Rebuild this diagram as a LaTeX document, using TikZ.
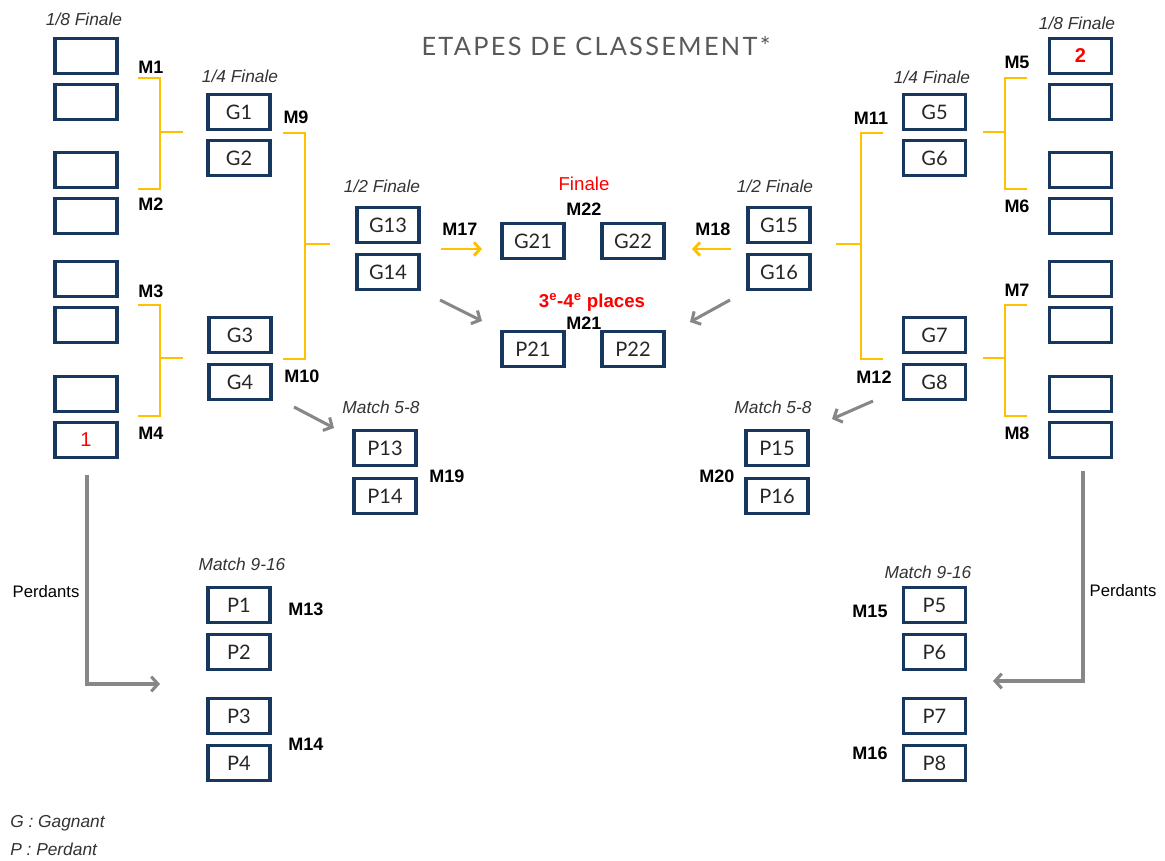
\documentclass[tikz,border=0pt]{standalone}
\usepackage{fontspec}
\setmainfont{Liberation Sans}
\newfontfamily\boxfont{Lato}
\newfontfamily\titlefont[LetterSpace=9]{Lato}
\usetikzlibrary{arrows.meta}
\definecolor{navy}{HTML}{17375E}
\definecolor{gold}{HTML}{FFC000}
\definecolor{arrgrey}{HTML}{878787}
\definecolor{titlegrey}{HTML}{595959}
\definecolor{redtxt}{HTML}{FF0000}
\tikzset{
  team/.style={draw=navy, line width=2.3pt, minimum width=46.5pt, minimum height=26.25pt, inner sep=0pt, font=\boxfont\fontsize{15}{17}\selectfont, text=black!85},
  mlab/.style={font=\bfseries\fontsize{13.5}{15}\selectfont, inner sep=0pt},
  stage/.style={font=\itshape\fontsize{13}{15}\selectfont, text=black!80, inner sep=0pt},
  bracket/.style={draw=gold, line width=2.2pt},
  yarrow/.style={draw=gold, line width=2.2pt, -{Straight Barb[length=4.5pt,width=10pt]}},
  garrow/.style={draw=arrgrey, line width=2.3pt, -{Straight Barb[length=5pt,width=11pt]}},
  redlab/.style={font=\fontsize{14}{16}\selectfont, text=redtxt, inner sep=0pt}
}
\begin{document}
\begin{tikzpicture}[x=0.75pt, y=-0.75pt]
\useasboundingbox (0,0) rectangle (1165,861);
% title
\node[font=\titlefont\fontsize{19}{21}\selectfont, text=titlegrey, inner sep=0pt] (title) at (596,46) {ETAPES DE CLASSEMENT*};
% stage labels
\node[stage] (s8l) at (84,19) {1/8 Finale};
\node[stage] (s8r) at (1077,23) {1/8 Finale};
\node[stage] (s4l) at (240,76) {1/4 Finale};
\node[stage] (s4r) at (932,77) {1/4 Finale};
\node[stage] (s2l) at (382,186) {1/2 Finale};
\node[stage] (s2r) at (775,186) {1/2 Finale};
\node[stage] (m58l) at (381,407) {Match 5-8};
\node[stage] (m58r) at (773,407) {Match 5-8};
\node[stage] (m916l) at (242,564) {Match 9-16};
\node[stage] (m916r) at (928,572) {Match 9-16};
% left 1/8 boxes
\node[team] (L1) at (86,56) {};
\node[team] (L2) at (86,102) {};
\node[team] (L3) at (86,170) {};
\node[team] (L4) at (86,216) {};
\node[team] (L5) at (86,279) {};
\node[team] (L6) at (86,325) {};
\node[team] (L7) at (86,394) {};
\node[team] (L8) at (86,440) {\fontspec{Liberation Sans}\textcolor{redtxt}{1}};
% right 1/8 boxes
\node[team] (R1) at (1080.5,56) {\fontspec{Liberation Sans}\bfseries\textcolor{redtxt}{2}};
\node[team] (R2) at (1080.5,102) {};
\node[team] (R3) at (1080.5,170) {};
\node[team] (R4) at (1080.5,216) {};
\node[team] (R5) at (1080.5,279) {};
\node[team] (R6) at (1080.5,325) {};
\node[team] (R7) at (1080.5,394) {};
\node[team] (R8) at (1080.5,440) {};
% quarter
\node[team] (G1) at (239,112) {G1};
\node[team] (G2) at (239,158) {G2};
\node[team] (G3) at (240,335) {G3};
\node[team] (G4) at (240,382) {G4};
\node[team] (G5) at (934.5,112) {G5};
\node[team] (G6) at (934.5,158) {G6};
\node[team] (G7) at (934.5,335) {G7};
\node[team] (G8) at (934.5,382) {G8};
% semis
\node[team] (G13) at (388,225) {G13};
\node[team] (G14) at (388,272) {G14};
\node[team] (G15) at (779,225) {G15};
\node[team] (G16) at (779,272) {G16};
% finals
\node[team] (G21) at (533,241) {G21};
\node[team] (G22) at (633,241) {G22};
\node[team] (P21) at (533,349) {P21};
\node[team] (P22) at (633,349) {P22};
% 5-8
\node[team] (P13) at (385,448) {P13};
\node[team] (P14) at (385,496) {P14};
\node[team] (P15) at (777,448) {P15};
\node[team] (P16) at (777,496) {P16};
% 9-16
\node[team] (P1) at (239,605) {P1};
\node[team] (P2) at (239,652) {P2};
\node[team] (P3) at (239,716) {P3};
\node[team] (P4) at (239,763) {P4};
\node[team] (P5) at (934.5,605) {P5};
\node[team] (P6) at (934.5,652) {P6};
\node[team] (P7) at (934.5,716) {P7};
\node[team] (P8) at (934.5,763) {P8};
% match labels
\node[mlab] (M1) at (151,67) {M1};
\node[mlab] (M2) at (151,204) {M2};
\node[mlab] (M3) at (151,291) {M3};
\node[mlab] (M4) at (151,433) {M4};
\node[mlab] (M9) at (296,117) {M9};
\node[mlab] (M10) at (302,376) {M10};
\node[mlab] (M5) at (1017,62) {M5};
\node[mlab] (M6) at (1017,206) {M6};
\node[mlab] (M7) at (1017,290) {M7};
\node[mlab] (M8) at (1017,433) {M8};
\node[mlab] (M11) at (871,118) {M11};
\node[mlab] (M12) at (874,377) {M12};
\node[mlab] (M17) at (460,229) {M17};
\node[mlab] (M18) at (713,229) {M18};
\node[mlab] (M22) at (584,209) {M22};
\node[mlab] (M21) at (584,323) {M21};
\node[mlab] (M19) at (447,476) {M19};
\node[mlab] (M20) at (717,476) {M20};
\node[mlab] (M13) at (306,609) {M13};
\node[mlab] (M14) at (306,744) {M14};
\node[mlab] (M15) at (870,611) {M15};
\node[mlab] (M16) at (870,753) {M16};
% red labels
\node[redlab] (fin) at (584,184) {Finale};
\node[redlab, font=\bfseries\fontsize{14}{16}\selectfont] (p34) at (592,302) {3\textsuperscript{e}-4\textsuperscript{e} places};
% brackets left
\draw[bracket] (138,78) -- (160,78) -- (160,189) -- (138,189) (160,132) -- (183,132);
\draw[bracket] (138,305) -- (160,305) -- (160,416) -- (138,416) (160,358) -- (183,358);
\draw[bracket] (283,133) -- (305,133) -- (305,359) -- (283,359) (305,244) -- (330,244);
% brackets right
\draw[bracket] (1027,78) -- (1005,78) -- (1005,189) -- (1027,189) (1005,132) -- (983,132);
\draw[bracket] (1027,305) -- (1005,305) -- (1005,416) -- (1027,416) (1005,358) -- (983,358);
\draw[bracket] (883,133) -- (861,133) -- (861,359) -- (883,359) (861,244) -- (836,244);
% arrow coordinates
\coordinate (a17s) at (441,249); \coordinate (a17e) at (482,249);
\coordinate (a18s) at (731,249); \coordinate (a18e) at (692,249);
\coordinate (g1s) at (440,300); \coordinate (g1e) at (482,321);
\coordinate (g2s) at (730,300); \coordinate (g2e) at (690,322);
\coordinate (g3s) at (294,407); \coordinate (g3e) at (334,428);
\coordinate (g4s) at (873,401); \coordinate (g4e) at (832,419);
\coordinate (pls) at (87,475); \coordinate (plc) at (87,684); \coordinate (ple) at (160,684);
\coordinate (prs) at (1083,471); \coordinate (prc) at (1083,681); \coordinate (pre) at (993,681);
\draw[yarrow] (a17s) -- (a17e);
\draw[yarrow] (a18s) -- (a18e);
\draw[garrow] (g1s) -- (g1e);
\draw[garrow] (g2s) -- (g2e);
\draw[garrow] (g3s) -- (g3e);
\draw[garrow] (g4s) -- (g4e);
\draw[garrow] (pls) -- (plc) -- (ple);
\draw[garrow] (prs) -- (prc) -- (pre);
\node[font=\fontsize{12.5}{14}\selectfont, inner sep=0pt] (perdl) at (46,592) {Perdants};
\node[font=\fontsize{12.5}{14}\selectfont, inner sep=0pt] (perdr) at (1123,591) {Perdants};
% legend
\node[stage, anchor=west] (legG) at (10,823) {G : Gagnant};
\node[stage, anchor=west] (legP) at (10,849) {P : Perdant};
\end{tikzpicture}
\end{document}
